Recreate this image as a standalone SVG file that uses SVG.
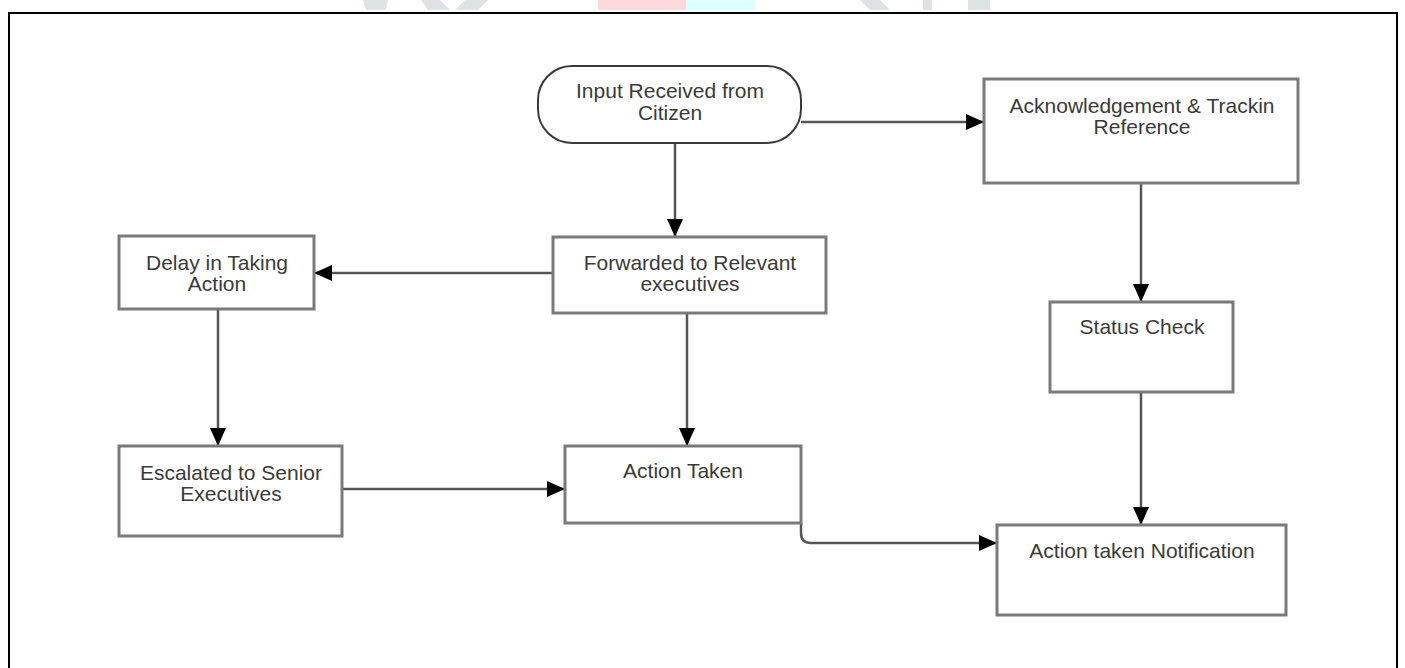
<svg xmlns="http://www.w3.org/2000/svg" width="1405" height="668" viewBox="0 0 1405 668">
<style>
.box{fill:#fff;stroke:#7a7a7a;stroke-width:3}
.term{fill:#fff;stroke:#3a3a3a;stroke-width:2}
.lbl{font-family:"Liberation Sans",Arial,sans-serif;font-size:21px;fill:#3a3a3a;text-anchor:middle}
.edge{fill:none;stroke:#555;stroke-width:2.5}
</style>
<defs>
<marker id="arr" markerUnits="userSpaceOnUse" markerWidth="20" markerHeight="16" refX="18" refY="8" orient="auto">
<path d="M0,0 L18,8 L0,16 z" fill="#000"/>
</marker>
</defs>
<rect width="1405" height="668" fill="#fff"/>
<g id="watermark">
<polygon points="363,0 388,0 386,10 366,10" fill="#dde2e5"/>
<polygon points="421,0 440,0 450,10 428,10" fill="#dde2e5"/>
<polygon points="465,0 488,0 478,10 455,10" fill="#dde2e5"/>
<rect x="598" y="0" width="88" height="10" fill="#ffdadd"/>
<rect x="686" y="0" width="69" height="10" fill="#dcffff"/>
<polygon points="860,0 880,0 890,10 870,10" fill="#dde2e5"/>
<rect x="923" y="0" width="9" height="10" fill="#dde2e5"/>
<rect x="968" y="0" width="22" height="10" fill="#dde2e5"/>
</g>
<rect id="frame" x="9" y="13" width="1388" height="670" fill="none" stroke="#000" stroke-width="2"/>
<g id="connectors">
<path class="edge" d="M801,122 L984,122" marker-end="url(#arr)"/>
<path class="edge" d="M675,143 L675,237" marker-end="url(#arr)"/>
<path class="edge" d="M553,273 L314,273" marker-end="url(#arr)"/>
<path class="edge" d="M218,309 L218,446" marker-end="url(#arr)"/>
<path class="edge" d="M687,313 L687,446" marker-end="url(#arr)"/>
<path class="edge" d="M342,489 L565,489" marker-end="url(#arr)"/>
<path class="edge" d="M1141,183 L1141,302" marker-end="url(#arr)"/>
<path class="edge" d="M1141,392 L1141,525" marker-end="url(#arr)"/>
<path class="edge" d="M801,523 L801,533 Q801,543 811,543 L997,543" marker-end="url(#arr)"/>
</g>
<g id="n-input">
<rect class="term" x="538" y="66" width="263" height="77" rx="34" ry="34"/>
<text class="lbl" x="670" y="98">Input Received from</text>
<text class="lbl" x="670" y="120">Citizen</text>
</g>
<g id="n-ack">
<rect class="box" x="984" y="79" width="314" height="104"/>
<text class="lbl" x="1142" y="113">Acknowledgement &amp; Trackin</text>
<text class="lbl" x="1142" y="134">Reference</text>
</g>
<g id="n-delay">
<rect class="box" x="119" y="236" width="195" height="73"/>
<text class="lbl" x="217" y="270">Delay in Taking</text>
<text class="lbl" x="217" y="291">Action</text>
</g>
<g id="n-forward">
<rect class="box" x="553" y="237" width="273" height="76"/>
<text class="lbl" x="690" y="270">Forwarded to Relevant</text>
<text class="lbl" x="690" y="291">executives</text>
</g>
<g id="n-status">
<rect class="box" x="1050" y="302" width="183" height="90"/>
<text class="lbl" x="1142" y="334">Status Check</text>
</g>
<g id="n-escalated">
<rect class="box" x="119" y="446" width="223" height="90"/>
<text class="lbl" x="231" y="480">Escalated to Senior</text>
<text class="lbl" x="231" y="501">Executives</text>
</g>
<g id="n-action">
<rect class="box" x="565" y="446" width="236" height="77"/>
<text class="lbl" x="683" y="478">Action Taken</text>
</g>
<g id="n-notify">
<rect class="box" x="997" y="525" width="289" height="90"/>
<text class="lbl" x="1142" y="558">Action taken Notification</text>
</g>
</svg>
